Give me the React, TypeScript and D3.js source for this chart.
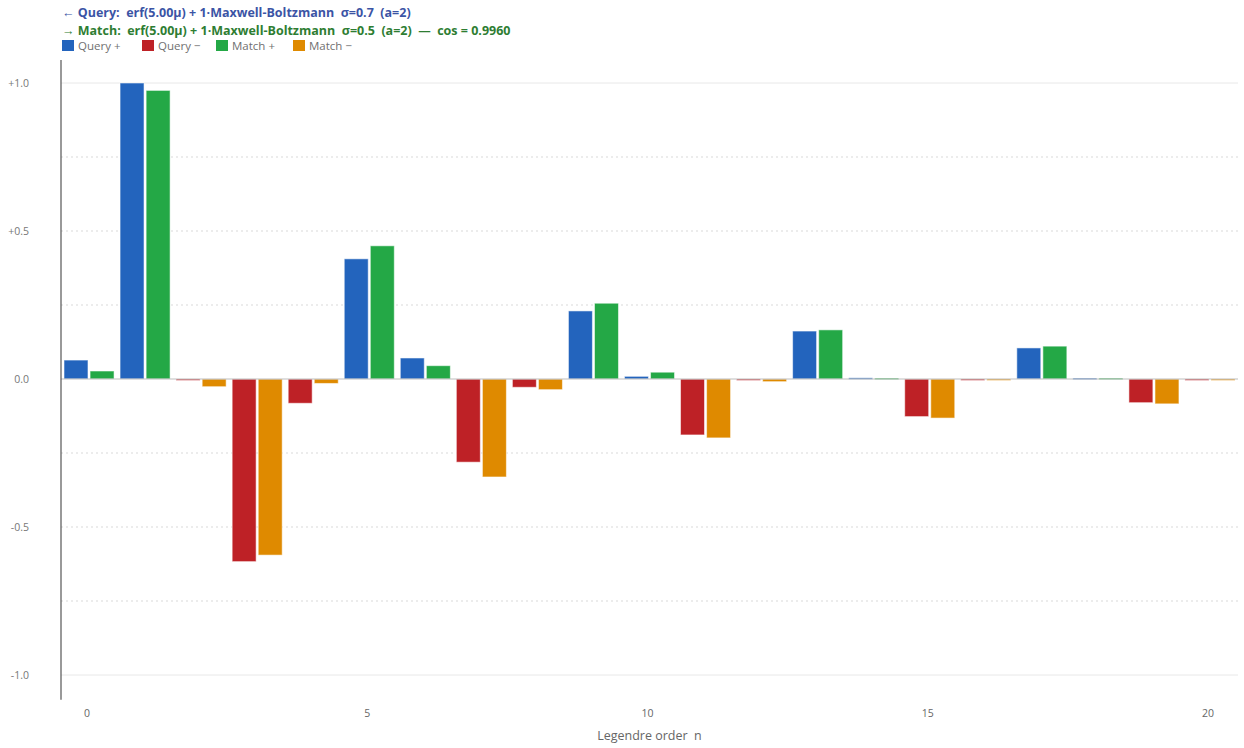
import React from "react";
import * as d3 from "d3";

// Legendre coefficient spectra for the two profiles, orders 0..20
const orders: number[] = d3.range(0, 21);
const queryCoeffs: number[] = [
  0.064, 1.0, -0.005, -0.617, -0.082, 0.406, 0.071, -0.281, -0.028, 0.23,
  0.009, -0.189, -0.004, 0.162, 0.004, -0.127, -0.003, 0.105, 0.003, -0.08, -0.003,
];
const matchCoeffs: number[] = [
  0.027, 0.975, -0.026, -0.595, -0.015, 0.45, 0.045, -0.331, -0.036, 0.256,
  0.023, -0.199, -0.009, 0.166, 0.003, -0.132, -0.003, 0.111, 0.003, -0.084, -0.002,
];
const yTicks: number[] = [1, 0.5, 0, -0.5, -1];
const xTicks: number[] = [0, 5, 10, 15, 20];
const gridDotted: number[] = [0.75, 0.5, 0.25, -0.25, -0.5, -0.75];
const gridSolid: number[] = [1, -1];

const legendItems = [
  { label: "Query +", color: "#2364bd" },
  { label: "Query \u2212", color: "#be2126" },
  { label: "Match +", color: "#24a846" },
  { label: "Match \u2212", color: "#df8a00" },
];

const W = 1244;
const H = 748;
const left = 61;
const right = 1238;
const FONT = "'Open Sans', 'Noto Sans', sans-serif";

export default function App() {
  const x = d3
    .scaleBand<number>()
    .domain(orders)
    .range([left, right])
    .padding(0);
  const inner = d3
    .scaleBand<string>()
    .domain(["q", "m"])
    .range([3, x.bandwidth() - 3])
    .paddingInner(0.08);
  const y = d3.scaleLinear().domain([-1, 1]).range([675, 83]);

  const fmt = (v: number) => (v > 0 ? "+" + v.toFixed(1) : v.toFixed(1));

  const bar = (n: number, v: number, key: "q" | "m") => {
    const pos = key === "q" ? legendItems[0].color : legendItems[2].color;
    const neg = key === "q" ? legendItems[1].color : legendItems[3].color;
    const y0 = y(0);
    const y1 = y(v);
    return (
      <rect
        key={key + n}
        x={(x(n) as number) + (inner(key) as number)}
        y={Math.min(y0, y1)}
        width={inner.bandwidth()}
        height={Math.max(Math.abs(y1 - y0), 1.5)}
        fill={v >= 0 ? pos : neg}
        stroke="#ffffff"
        strokeOpacity={0.55}
        strokeWidth={1}
      />
    );
  };

  return (
    <svg
      width={W}
      height={H}
      style={{ position: "absolute", left: 0, top: 0, background: "#fff" }}
      fontFamily={FONT}
    >
      {/* header lines */}
      <text x={62} y={17} fontSize={12.5} fontWeight={700} fill="#3b54a5" style={{ whiteSpace: "pre" }}>
        {"\u2190 Query:  erf(5.00\u03bc) + 1\u00b7Maxwell-Boltzmann  \u03c3=0.7  (a=2)"}
      </text>
      <text x={62} y={35} fontSize={12.5} fontWeight={700} fill="#2e7d32" style={{ whiteSpace: "pre" }}>
        {"\u2192 Match:  erf(5.00\u03bc) + 1\u00b7Maxwell-Boltzmann  \u03c3=0.5  (a=2)  \u2014  cos = 0.9960"}
      </text>

      {/* legend */}
      {legendItems.map((d, i) => {
        const lx = [62, 142, 216, 293][i];
        return (
          <g key={d.label} transform={`translate(${lx},40)`}>
            <rect x={0} y={0} width={12} height={11} fill={d.color} />
            <text x={16} y={10} fontSize={11.5} fill="#707070">
              {d.label}
            </text>
          </g>
        );
      })}

      {/* grid */}
      {gridDotted.map((v) => (
        <line
          key={"gd" + v}
          x1={left}
          x2={right}
          y1={y(v)}
          y2={y(v)}
          stroke="#d9d9d9"
          strokeDasharray="2,3"
          strokeWidth={1}
        />
      ))}
      {gridSolid.map((v) => (
        <line key={"gs" + v} x1={left} x2={right} y1={y(v)} y2={y(v)} stroke="#e8e8e8" strokeWidth={1} />
      ))}

      {/* bars */}
      {orders.map((n) => bar(n, queryCoeffs[n], "q"))}
      {orders.map((n) => bar(n, matchCoeffs[n], "m"))}

      {/* zero line */}
      <line x1={left} x2={right} y1={y(0)} y2={y(0)} stroke="#bdbdbd" strokeWidth={1.2} />

      {/* y axis */}
      <line x1={left} x2={left} y1={y(1.078)} y2={y(-1.084)} stroke="#555" strokeWidth={1.2} />
      {yTicks.map((v) => (
        <text key={"yt" + v} x={29} y={y(v) + 4} fontSize={10.5} fill="#777" textAnchor="end">
          {fmt(v)}
        </text>
      ))}

      {/* x axis */}
      {xTicks.map((n) => (
        <text
          key={"xt" + n}
          x={(x(n) as number) + x.bandwidth() / 2 - 2}
          y={717}
          fontSize={10.5}
          fill="#666"
          textAnchor="middle"
        >
          {n}
        </text>
      ))}
      <text x={(left + right) / 2} y={740} fontSize={12.5} fill="#666" textAnchor="middle" style={{ whiteSpace: "pre" }}>
        {"Legendre order  n"}
      </text>
    </svg>
  );
}
